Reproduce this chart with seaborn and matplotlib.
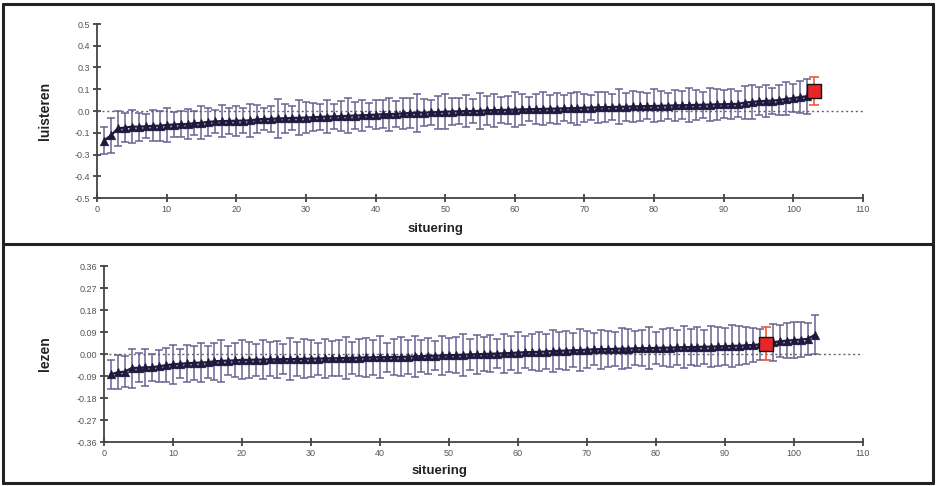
import numpy as np
import pandas as pd
import matplotlib
matplotlib.use('Agg')
import matplotlib.pyplot as plt
import seaborn as sns
from matplotlib.lines import Line2D

# --- data: luisteren (top panel) ---
luisteren_mean = [
    -0.170, -0.140, -0.100, -0.095, -0.090, -0.090, -0.088, -0.085, -0.085, -0.080,
    -0.078, -0.075, -0.075, -0.070, -0.068, -0.062, -0.060, -0.058, -0.057, -0.056,
    -0.055, -0.054, -0.048, -0.046, -0.045, -0.043, -0.042, -0.040, -0.039, -0.038,
    -0.036, -0.034, -0.032, -0.031, -0.030, -0.028, -0.026, -0.025, -0.023, -0.021,
    -0.019, -0.018, -0.016, -0.013, -0.012, -0.010, -0.009, -0.008, -0.006, -0.004,
    -0.003, -0.002, 0.000, 0.000, 0.001, 0.004, 0.005, 0.006, 0.007, 0.008,
    0.009, 0.010, 0.011, 0.012, 0.013, 0.014, 0.015, 0.016, 0.017, 0.019,
    0.020, 0.021, 0.022, 0.023, 0.024, 0.025, 0.026, 0.027, 0.028, 0.029,
    0.030, 0.031, 0.032, 0.033, 0.034, 0.035, 0.036, 0.037, 0.038, 0.039,
    0.040, 0.041, 0.048, 0.052, 0.056, 0.058, 0.060, 0.063, 0.070, 0.074,
    0.080, 0.085, 0.115,
]
luisteren_err = [
    0.077, 0.100, 0.100, 0.085, 0.095, 0.080, 0.070, 0.090, 0.085, 0.100,
    0.070, 0.075, 0.085, 0.070, 0.095, 0.080, 0.065, 0.090, 0.075, 0.085,
    0.070, 0.095, 0.080, 0.065, 0.075, 0.110, 0.085, 0.070, 0.100, 0.090,
    0.080, 0.075, 0.095, 0.070, 0.085, 0.100, 0.075, 0.090, 0.070, 0.085,
    0.080, 0.095, 0.075, 0.090, 0.085, 0.110, 0.080, 0.070, 0.095, 0.100,
    0.080, 0.075, 0.090, 0.070, 0.105, 0.085, 0.095, 0.075, 0.080, 0.100,
    0.090, 0.070, 0.085, 0.095, 0.080, 0.090, 0.075, 0.085, 0.095, 0.080,
    0.070, 0.090, 0.085, 0.075, 0.100, 0.080, 0.090, 0.085, 0.075, 0.095,
    0.085, 0.075, 0.090, 0.080, 0.100, 0.085, 0.075, 0.095, 0.090, 0.080,
    0.085, 0.075, 0.095, 0.100, 0.080, 0.090, 0.075, 0.085, 0.095, 0.080,
    0.090, 0.100, 0.078,
]
luisteren_highlight = 103

# --- data: lezen (bottom panel) ---
lezen_mean = [
    -0.083, -0.075, -0.072, -0.058, -0.056, -0.055, -0.054, -0.050, -0.046, -0.042,
    -0.040, -0.038, -0.036, -0.035, -0.034, -0.030, -0.028, -0.027, -0.026, -0.024,
    -0.024, -0.023, -0.023, -0.022, -0.022, -0.021, -0.021, -0.020, -0.020, -0.019,
    -0.019, -0.018, -0.018, -0.017, -0.016, -0.016, -0.015, -0.014, -0.014, -0.013,
    -0.013, -0.012, -0.012, -0.011, -0.010, -0.009, -0.008, -0.007, -0.006, -0.005,
    -0.004, -0.003, -0.002, -0.001, 0.000, 0.001, 0.002, 0.003, 0.004, 0.006,
    0.007, 0.008, 0.009, 0.010, 0.012, 0.013, 0.014, 0.015, 0.016, 0.018,
    0.019, 0.020, 0.020, 0.021, 0.022, 0.022, 0.023, 0.024, 0.024, 0.025,
    0.026, 0.026, 0.027, 0.028, 0.028, 0.029, 0.030, 0.030, 0.031, 0.032,
    0.033, 0.034, 0.035, 0.037, 0.039, 0.042, 0.048, 0.052, 0.055, 0.057,
    0.059, 0.062, 0.078,
]
lezen_err = [
    0.060, 0.070, 0.065, 0.080, 0.060, 0.075, 0.055, 0.065, 0.070, 0.080,
    0.060, 0.075, 0.070, 0.080, 0.065, 0.075, 0.085, 0.060, 0.070, 0.080,
    0.075, 0.065, 0.080, 0.070, 0.075, 0.060, 0.085, 0.070, 0.080, 0.075,
    0.065, 0.080, 0.070, 0.075, 0.085, 0.065, 0.075, 0.080, 0.070, 0.085,
    0.060, 0.075, 0.080, 0.070, 0.085, 0.065, 0.075, 0.060, 0.080, 0.070,
    0.075, 0.085, 0.065, 0.080, 0.070, 0.075, 0.060, 0.080, 0.070, 0.085,
    0.065, 0.075, 0.080, 0.070, 0.085, 0.075, 0.080, 0.070, 0.085, 0.075,
    0.065, 0.080, 0.075, 0.070, 0.085, 0.080, 0.070, 0.075, 0.085, 0.065,
    0.075, 0.080, 0.070, 0.085, 0.075, 0.080, 0.070, 0.085, 0.080, 0.075,
    0.085, 0.080, 0.075, 0.070, 0.065, 0.068, 0.075, 0.065, 0.070, 0.075,
    0.070, 0.065, 0.080,
]
lezen_highlight = 96

top_yticks = [-0.5, -0.375, -0.25, -0.125, 0.0, 0.125, 0.25, 0.375, 0.5]
top_yticklabels = ['-0.5', '-0.4', '-0.3', '-0.1', '0.0', '0.1', '0.3', '0.4', '0.5']
bot_yticks = [-0.36, -0.27, -0.18, -0.09, 0.0, 0.09, 0.18, 0.27, 0.36]
bot_yticklabels = ['-0.36', '-0.27', '-0.18', '-0.09', '0.00', '0.09', '0.18', '0.27', '0.36']
xticks = list(range(0, 111, 10))

sns.set_style('ticks')
plt.rcParams['font.family'] = ['Liberation Sans', 'DejaVu Sans']

BAR = '#625689'
MARK = '#1d1a3e'
RED = '#e8262a'
RED_BAR = '#ec5a3c'


def panel(ax, means, errs, highlight, yticks, yticklabels, ylabel, ylab_x, xlab_y):
    df = pd.DataFrame({'situering': np.arange(1, len(means) + 1),
                       'mean': means, 'err': errs})
    df['hl'] = df['situering'] == highlight
    rest = df[~df['hl']]
    hl = df[df['hl']]

    ax.axhline(0, xmin=0, xmax=1, color='#666666', lw=1.0, ls=(0, (1.5, 2)), zorder=1)
    ax.errorbar(rest['situering'], rest['mean'], yerr=rest['err'], fmt='none',
                ecolor=BAR, elinewidth=1.2, capsize=3, capthick=1.2, alpha=0.85, zorder=2)
    sns.lineplot(data=rest, x='situering', y='mean', ax=ax, color=MARK, lw=1.6,
                 estimator=None, sort=True, zorder=3)
    sns.scatterplot(data=rest, x='situering', y='mean', ax=ax, marker='^', s=40,
                    color=MARK, edgecolor=MARK, linewidth=0.3, zorder=4)
    ax.errorbar(hl['situering'], hl['mean'], yerr=hl['err'], fmt='none',
                ecolor=RED_BAR, elinewidth=1.2, capsize=3.5, capthick=1.2, zorder=5)
    sns.scatterplot(data=hl, x='situering', y='mean', ax=ax, marker='s', s=110,
                    color=RED, edgecolor='#111111', linewidth=1.0, zorder=6)

    ax.set_xlim(0, 110)
    ax.set_ylim(yticks[0], yticks[-1])
    ax.set_xticks(xticks)
    ax.set_xticklabels([str(t) for t in xticks])
    ax.set_yticks(yticks)
    ax.set_yticklabels(yticklabels)
    ax.tick_params(axis='both', direction='inout', length=6, width=1.2,
                   labelsize=6.5, labelcolor='#555555', color='#333333', pad=2)
    for s in ['top', 'right']:
        ax.spines[s].set_visible(False)
    for s in ['left', 'bottom']:
        ax.spines[s].set_linewidth(1.3)
        ax.spines[s].set_color('#444444')
    ax.set_xlabel('situering', fontsize=9.5, fontweight='bold', color='#222222')
    ax.set_ylabel(ylabel, fontsize=10, fontweight='bold', color='#222222')
    ax.xaxis.set_label_coords(0.442, xlab_y)
    ax.yaxis.set_label_coords(ylab_x, 0.5)


fig = plt.figure(figsize=(9.38, 4.86), dpi=100)
ax1 = fig.add_axes([97 / 938, 1 - 198 / 486, 766 / 938, 174 / 486])
ax2 = fig.add_axes([104 / 938, 1 - 442 / 486, 759 / 938, 176 / 486])

panel(ax1, luisteren_mean, luisteren_err, luisteren_highlight,
      top_yticks, top_yticklabels, 'luisteren', -0.059, -0.145)
panel(ax2, lezen_mean, lezen_err, lezen_highlight,
      bot_yticks, bot_yticklabels, 'lezen', -0.069, -0.13)

# outer frame and divider
W, H = 938, 486
for (x0, y0, x1, y1) in [(3, 4, 933, 4), (3, 483, 933, 483), (3, 4, 3, 483),
                         (933, 4, 933, 483), (3, 244, 933, 244)]:
    fig.add_artist(Line2D([x0 / W, x1 / W], [1 - y0 / H, 1 - y1 / H],
                          color='#222222', lw=2.2, transform=fig.transFigure))

fig.savefig('out.png', dpi=100)
